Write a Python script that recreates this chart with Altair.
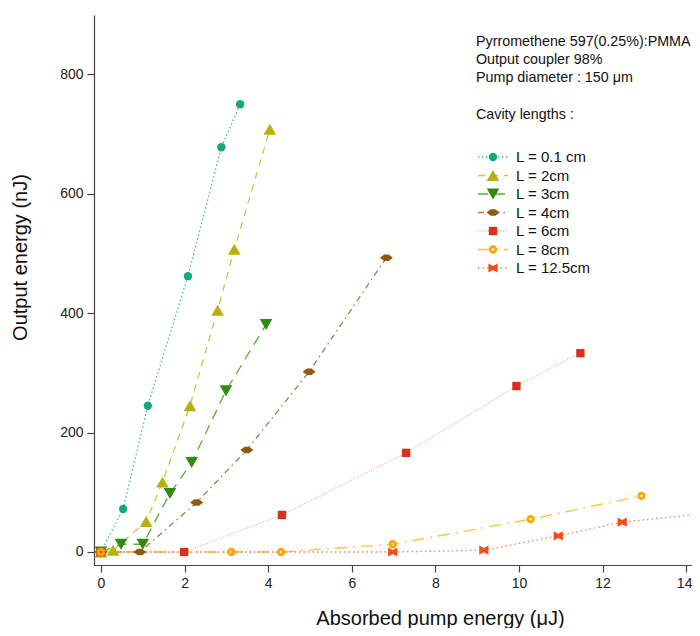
import altair as alt
import pandas as pd

# ---------------- data ----------------
series_names = ["L = 0.1 cm", "L = 2cm", "L = 3cm", "L = 4cm", "L = 6cm", "L = 8cm", "L = 12.5cm"]

x_01 = [0, 0.53, 1.12, 2.08, 2.88, 3.33]
y_01 = [0, 72, 245, 462, 678, 750]

x_2 = [0, 0.29, 1.08, 1.47, 2.13, 2.79, 3.19, 4.04]
y_2 = [0, 3, 51, 117, 245, 405, 507, 708]

x_3 = [0, 0.48, 1.0, 1.65, 2.17, 2.99, 3.95]
y_3 = [0, 13, 13, 98, 150, 270, 381]

x_4 = [0, 0.93, 2.29, 3.49, 4.98, 6.83]
y_4 = [0, 0, 83, 171, 302, 493]

x_6 = [0, 1.99, 4.33, 7.30, 9.94, 11.47]
y_6 = [0, 0, 62, 166, 278, 333]

x_8 = [0, 3.12, 4.31, 6.98, 10.28, 12.93]
y_8 = [0, 0, 0, 13, 55, 94]

x_125 = [0, 6.98, 9.16, 10.94, 12.47, 15.9]
y_125 = [0, 0, 3, 27, 50, 75]

header_lines = ["Pyrromethene 597(0.25%):PMMA", "Output coupler 98%", "Pump diameter : 150 \u03bcm"]
legend_title = "Cavity lengths :"

x_ticks = [0, 2, 4, 6, 8, 10, 12, 14]
y_ticks = [0, 200, 400, 600, 800]

# ---------------- styles ----------------
marker_colors = ["#12a97b", "#bab00c", "#2f8c12", "#8e5a0c", "#d8311e", "#ffa500", "#ef4f1c"]
line_colors = ["#3dbf98", "#cfc64a", "#5aae3c", "#a87b45", "#f4b0a8", "#ffbf3f", "#f2805e"]
dashes = [[1.5, 2.5], [7, 6], [10, 7], [6, 4, 1.5, 4], [1, 1.5], [12, 6, 2, 6], [1.5, 3]]
tie = "M -1 0 L -0.35 -0.5 L 0.35 -0.5 L 1 0 L 0.35 0.5 L -0.35 0.5 Z"
bowtie = "M -1 -1 L 0 -0.45 L 1 -1 L 1 1 L 0 0.45 L -1 1 Z"
shapes = ["circle", "triangle-up", "triangle-down", tie, "square", "circle", bowtie]
sizes = [70, 160, 160, 170, 70, 30, 85]

xs = [x_01, x_2, x_3, x_4, x_6, x_8, x_125]
ys = [y_01, y_2, y_3, y_4, y_6, y_8, y_125]
rows = []
for name, xx, yy in zip(series_names, xs, ys):
    for a, b in zip(xx, yy):
        rows.append({"series": name, "x": a, "y": b})
df = pd.DataFrame(rows)
leg_df = pd.DataFrame({"series": series_names})

FONT = "Liberation Sans"

color_enc = alt.Color("series:N", scale=alt.Scale(domain=series_names, range=marker_colors), legend=None)
stroke_enc = alt.Stroke("series:N", scale=alt.Scale(domain=series_names, range=line_colors), legend=None)
dash_enc = alt.StrokeDash("series:N", scale=alt.Scale(domain=series_names, range=dashes), legend=None)
shape_enc = alt.Shape("series:N", scale=alt.Scale(domain=series_names, range=shapes), legend=None)
size_enc = alt.Size("series:N", scale=alt.Scale(type="ordinal", domain=series_names, range=sizes), legend=None)

x_enc = alt.X("x:Q", scale=alt.Scale(domain=[-0.167, 14.14], nice=False, zero=False),
              axis=alt.Axis(values=x_ticks, title="Absorbed pump energy (\u03bcJ)", titleX=346, titleY=53,
                            titleAlign="center", titleBaseline="middle", titleAnchor="start",
                            labelOffset={"condition": {"test": "datum.value == 14", "value": -2}, "value": 0}))
y_enc = alt.Y("y:Q", scale=alt.Scale(domain=[-21.8, 899.5], nice=False, zero=False),
              axis=alt.Axis(values=y_ticks, title="Output energy (nJ)", titleX=-74, titleY=242,
                            titleAngle=270, titleAlign="center", titleBaseline="middle", titleAnchor="start"))

base = alt.Chart(df)
lines = base.mark_line(strokeWidth=1.3, clip=True).encode(
    x=x_enc, y=y_enc, stroke=stroke_enc, strokeDash=dash_enc, detail="series:N", order="x:Q")
pts_filled = base.transform_filter(alt.datum.series != "L = 8cm").mark_point(
    filled=True, opacity=1, clip=True).encode(x=x_enc, y=y_enc, color=color_enc, shape=shape_enc, size=size_enc)
pts_open = base.transform_filter(alt.datum.series == "L = 8cm").mark_point(
    filled=False, opacity=1, strokeWidth=2.8, clip=True).encode(x=x_enc, y=y_enc, color=color_enc, shape=shape_enc, size=size_enc)
main = alt.layer(lines, pts_filled, pts_open)

leg_y = alt.Y("series:N", scale=alt.Scale(type="point", domain=series_names, range=[142, 253], padding=0), axis=None)
leg = alt.Chart(leg_df)
leg_rule = leg.mark_rule(strokeWidth=1.3).encode(
    x=alt.value(384), x2=alt.value(414), y=leg_y, stroke=stroke_enc, strokeDash=dash_enc)
leg_pts = leg.transform_filter(alt.datum.series != "L = 8cm").mark_point(filled=True, opacity=1).encode(
    x=alt.value(399), y=leg_y, color=color_enc, shape=shape_enc, size=size_enc)
leg_open = leg.transform_filter(alt.datum.series == "L = 8cm").mark_point(filled=False, opacity=1, strokeWidth=2.8).encode(
    x=alt.value(399), y=leg_y, color=color_enc, shape=shape_enc, size=size_enc)
leg_text = leg.mark_text(align="left", baseline="middle", font=FONT, fontSize=15, color="#111").encode(
    x=alt.value(422), y=leg_y, text="series:N")
header = alt.Chart(leg_df.head(1)).mark_text(
    text=header_lines, align="left", baseline="top", font=FONT, fontSize=14.3, lineHeight=18, color="#111"
).encode(x=alt.value(382), y=alt.value(20))
header2 = alt.Chart(leg_df.head(1)).mark_text(
    text=legend_title, align="left", baseline="top", font=FONT, fontSize=14.3, color="#111"
).encode(x=alt.value(382), y=alt.value(93))
legend = alt.layer(leg_rule, leg_pts, leg_open, leg_text, header, header2)

chart = alt.layer(main, legend).resolve_scale(
    y="independent"
).properties(
    width=598, height=550,
    autosize=alt.AutoSizeParams(type="none"),
    padding={"left": 86, "top": 7, "right": 0, "bottom": 63},
).configure_view(stroke=None).configure_axis(
    labelFont=FONT, labelFontSize=14, labelColor="#222", titleFont=FONT, titleFontSize=20,
    titleFontWeight="normal", titleColor="#111", tickColor="#444", domainColor="#444",
    tickSize=7, labelPadding=4, grid=False, domainWidth=1.2, tickWidth=1.2
)

chart.save("out.html", embed_options={"renderer": "svg", "actions": False})
